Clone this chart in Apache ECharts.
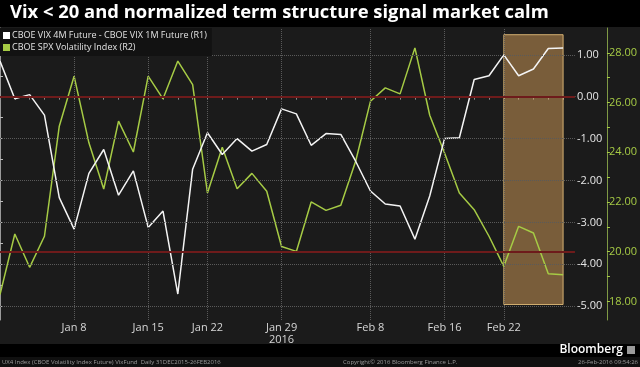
<!DOCTYPE html>
<html>
<head>
<meta charset="utf-8">
<script src="https://cdn.jsdelivr.net/npm/echarts@6/dist/echarts.min.js"></script>
<style>
html,body{margin:0;padding:0;background:#1b1b1b;}
#c{width:640px;height:367px;}
</style>
</head>
<body>
<div id="c"></div>
<script>
// ---- data ----
const dates = [
  '2015-12-31',
  '2016-01-04','2016-01-05','2016-01-06','2016-01-07','2016-01-08',
  '2016-01-11','2016-01-12','2016-01-13','2016-01-14','2016-01-15',
  '2016-01-19','2016-01-20','2016-01-21','2016-01-22',
  '2016-01-25','2016-01-26','2016-01-27','2016-01-28','2016-01-29',
  '2016-02-01','2016-02-02','2016-02-03','2016-02-04','2016-02-05',
  '2016-02-08','2016-02-09','2016-02-10','2016-02-11','2016-02-12',
  '2016-02-16','2016-02-17','2016-02-18','2016-02-19',
  '2016-02-22','2016-02-23','2016-02-24','2016-02-25','2016-02-26'
];
const termSpread = [
  0.85, -0.05, 0.05, -0.44, -2.41, -3.16,
  -1.83, -1.26, -2.35, -1.77, -3.12,
  -2.73, -4.71, -1.73, -0.86,
  -1.38, -1.00, -1.30, -1.14, -0.29,
  -0.41, -1.16, -0.88, -0.90, -1.54,
  -2.25, -2.56, -2.61, -3.40, -2.37,
  -1.00, -0.98, 0.41, 0.50,
  1.00, 0.50, 0.66, 1.15, 1.16
];
const vix = [
  18.27, 20.71, 19.37, 20.62, 25.05, 27.06,
  24.38, 22.52, 25.25, 24.01, 27.06,
  26.15, 27.67, 26.72, 22.36,
  24.20, 22.53, 23.15, 22.43, 20.21,
  20.01, 22.00, 21.66, 21.87, 23.64,
  26.05, 26.59, 26.35, 28.20, 25.49,
  23.97, 22.36, 21.69, 20.62,
  19.41, 21.02, 20.75, 19.11, 19.07
];
const seriesNames = ['CBOE VIX 4M Future - CBOE VIX 1M Future (R1)', 'CBOE SPX Volatility Index (R2)'];
const xTickLabels = ['Jan 8','Jan 15','Jan 22','Jan 29','Feb 8','Feb 16','Feb 22'];
const yearLabel = {under: 'Jan 29', text: '2016'};
const r1Labels = [-5, -4, -3, -2, -1, 0, 1];
const r1Ticks = [-5, -4.5, -4, -3.5, -3, -2.5, -2, -1.5, -1, -0.5, 0, 0.5, 1, 1.5];
const r2Labels = [18, 20, 22, 24, 26, 28];
const r2Ticks = [18, 19, 20, 21, 22, 23, 24, 25, 26, 27, 28];
const r1Range = [-5.33, 1.64];
const r2Range = [17.25, 29.0];
const r1RedLine = 0;
const r2RedLine = 20;
const highlight = {from: 'Feb 22', r1Top: 1.48, r1Bottom: -4.96};
const titleText = 'Vix < 20 and normalized term structure signal market calm';
const footerLeft = 'UX4 Index (CBOE Volatility Index Future) VixFund  Daily 31DEC2015-26FEB2016';
const footerMid = 'Copyright\u00A9 2016 Bloomberg Finance L.P.';
const footerRight = '26-Feb-2016 09:54:26';

// ---- helpers ----
const MON = ['Jan','Feb','Mar','Apr','May','Jun','Jul','Aug','Sep','Oct','Nov','Dec'];
function fmt(d){ const p = d.split('-'); return MON[+p[1]-1] + ' ' + (+p[2]); }
const idxOf = lab => dates.findIndex(d => fmt(d) === lab);
const xTickIdx = xTickLabels.map(idxOf);
const allIdx = dates.map((d,i)=>i);
const FONT = '"Open Sans", "Noto Sans", sans-serif';
const GREEN = '#a6cb45';
const GRIDC = '#5a5a5a';
const RED = '#6e1b1b';

const gridLines = [
  ...xTickIdx.map(i => ({xAxis: i})),
  ...r1Labels.filter(v => v !== r1RedLine).map(v => ({yAxis: v}))
];

const chart = echarts.init(document.getElementById('c'), null, {renderer:'canvas'});
chart.setOption({
  backgroundColor: '#1b1b1b',
  animation: false,
  textStyle: {fontFamily: FONT},
  grid: {left: 0, right: 64, top: 28, bottom: 47},
  legend: {
    show: true, orient: 'vertical', left: 0, top: 28, z: 10,
    backgroundColor: '#121212', padding: [3, 5, 4, 3], itemGap: 3,
    itemWidth: 7, itemHeight: 7, selectedMode: false,
    textStyle: {color: '#e2e2e2', fontSize: 9, fontFamily: FONT, padding:[0,0,0,-3]},
    data: [{name: seriesNames[0], icon: 'rect'}, {name: seriesNames[1], icon: 'rect'}]
  },
  xAxis: {
    type: 'value', min: 0, max: 38.8, position: 'bottom',
    axisLine: {show: true, lineStyle: {color: '#9a9a9a', width: 1}},
    axisTick: {show: true, customValues: allIdx, length: 3, lineStyle: {color: '#8a8a8a'}},
    splitLine: {show: false},
    axisLabel: {
      customValues: xTickIdx, color: '#d6d6d6', fontSize: 11, margin: 2, lineHeight: 12,
      fontFamily: FONT,
      formatter: v => { const l = fmt(dates[Math.round(v)]); return l === yearLabel.under ? l + '\n' + yearLabel.text : l; }
    }
  },
  yAxis: [
    {
      type: 'value', position: 'right', min: r1Range[0], max: r1Range[1],
      axisLine: {show: true, lineStyle: {color: '#9a9a9a'}},
      axisTick: {show: true, customValues: r1Ticks, length: 3, lineStyle: {color: '#bbbbbb'}},
      splitLine: {show: false},
      axisLabel: {customValues: r1Labels, color: '#e6e6e6', fontSize: 11, margin: 2, fontFamily: FONT,
        formatter: v => (+v).toFixed(2)}
    },
    {
      type: 'value', position: 'right', offset: 32, min: r2Range[0], max: r2Range[1],
      axisLine: {show: true, lineStyle: {color: '#7f9a45'}},
      axisTick: {show: true, customValues: r2Ticks, length: 3, lineStyle: {color: GREEN}},
      splitLine: {show: false},
      axisLabel: {customValues: r2Labels, color: GREEN, fontSize: 11, margin: 2, fontFamily: FONT,
        formatter: v => (+v).toFixed(2)}
    }
  ],
  series: [
    {
      name: '_grid', type: 'line', yAxisIndex: 0, z: 1, data: [], silent: true,
      markLine: {
        silent: true, symbol: ['none','none'], label: {show: false}, animation: false,
        lineStyle: {color: GRIDC, type: 'dotted', width: 1},
        data: gridLines
      }
    },
    {
      name: '_red1', type: 'line', yAxisIndex: 0, z: 1, data: [], silent: true,
      markLine: {
        silent: true, symbol: ['none','none'], label: {show: false}, animation: false,
        lineStyle: {color: RED, type: 'solid', width: 2},
        data: [{yAxis: r1RedLine}]
      }
    },
    {
      name: '_red2', type: 'line', yAxisIndex: 1, z: 1, data: [], silent: true,
      markLine: {
        silent: true, symbol: ['none','none'], label: {show: false}, animation: false,
        lineStyle: {color: RED, type: 'solid', width: 2},
        data: [{yAxis: r2RedLine}]
      }
    },
    {
      name: seriesNames[1], type: 'line', yAxisIndex: 1, z: 2, showSymbol: false, symbol: 'none',
      color: GREEN, lineStyle: {color: GREEN, width: 1.5},
      data: vix.map((v,i)=>[i, v])
    },
    {
      name: seriesNames[0], type: 'line', yAxisIndex: 0, z: 2, showSymbol: false, symbol: 'none',
      color: '#ffffff', lineStyle: {color: '#f4f4f4', width: 1.5},
      data: termSpread.map((v,i)=>[i, v])
    },
    {
      name: '_hl', type: 'line', yAxisIndex: 0, z: 3, data: [], silent: true,
      markArea: {
        silent: true,
        itemStyle: {color: 'rgba(224,166,92,0.48)', borderColor: 'rgba(235,195,125,0.85)', borderWidth: 1},
        data: [[{xAxis: idxOf(highlight.from), yAxis: highlight.r1Top}, {xAxis: dates.length - 1, yAxis: highlight.r1Bottom}]]
      }
    }
  ],
  graphic: [
    {type: 'rect', z: 0, shape: {x: 0, y: 0, width: 640, height: 27}, style: {fill: '#000'}},
    {type: 'text', z: 1, x: 10, y: 13, style: {text: titleText, fill: '#fff', font: 'bold 18.4px ' + FONT, textVerticalAlign: 'middle'}},
    {type: 'rect', z: 0, shape: {x: 0, y: 344, width: 640, height: 13}, style: {fill: '#000'}},
    {type: 'rect', z: 0, shape: {x: 0, y: 357, width: 640, height: 10}, style: {fill: '#101010'}},
    {type: 'text', z: 1, x: 623, y: 350, style: {text: 'Bloomberg', fill: '#fff', font: '600 12px ' + FONT, textAlign: 'right', textVerticalAlign: 'middle'}},
    {type: 'rect', z: 1, shape: {x: 627, y: 346, width: 8, height: 8}, style: {fill: '#9a9a9a'}},
    {type: 'text', z: 1, x: 2, y: 362, style: {text: footerLeft, fill: '#9a9a9a', font: '6px ' + FONT, textVerticalAlign: 'middle'}},
    {type: 'text', z: 1, x: 343, y: 362, style: {text: footerMid, fill: '#9a9a9a', font: '6px ' + FONT, textVerticalAlign: 'middle'}},
    {type: 'text', z: 1, x: 638, y: 362, style: {text: footerRight, fill: '#9a9a9a', font: '6px ' + FONT, textAlign: 'right', textVerticalAlign: 'middle'}}
  ]
});
</script>
</body>
</html>
